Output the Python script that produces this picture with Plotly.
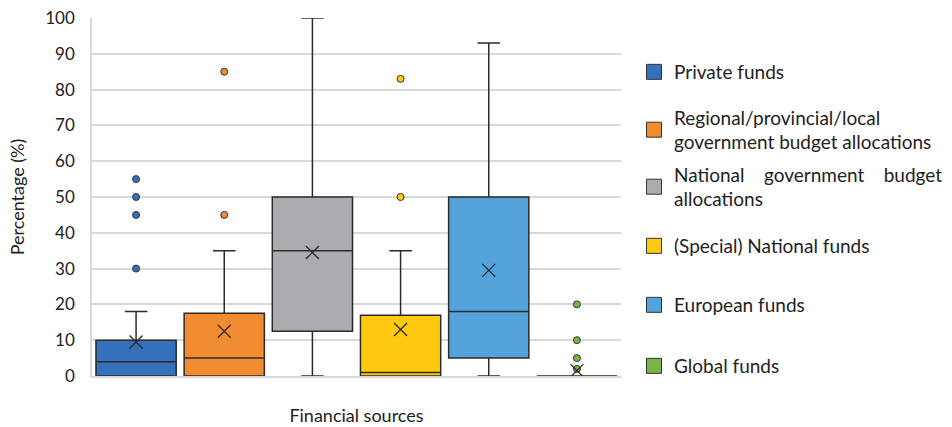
import plotly.graph_objects as go

categories = ["Private funds", "Regional/provincial/local government budget allocations",
              "National government budget allocations", "(Special) National funds",
              "European funds", "Global funds"]
legend_labels = ["Private funds",
                 "Regional/provincial/local<br>government budget allocations",
                 "National\u00a0\u00a0\u00a0 government\u00a0\u00a0\u00a0 budget<br>allocations",
                 "(Special) National funds",
                 "European funds",
                 "Global funds"]
lower_whisker = [0, 0, 0, 0, 0, 0]
q1_values = [0, 0, 12.5, 0, 5, 0]
median_values = [4, 5, 35, 1, 18, 0]
q3_values = [10, 17.5, 50, 17, 50, 0]
upper_whisker = [18, 35, 100, 35, 93, 0]
mean_values = [9.5, 12.5, 34.5, 13, 29.5, 1.5]
outlier_values = [[30, 45, 50, 55], [45, 85], [], [50, 83], [], [2, 5, 10, 20]]
y_ticks = [0, 10, 20, 30, 40, 50, 60, 70, 80, 90, 100]

colors = ["#3571BA", "#F28C30", "#AAACB0", "#FFCA0F", "#54A3DA", "#78B548"]
FONT = "Lato"

W, H = 952, 427
plot_left, plot_right = 92, 621
plot_top, plot_bottom = 18, 376

fig = go.Figure()
for i, cat in enumerate(categories):
    fig.add_trace(go.Box(
        x=[i], q1=[q1_values[i]], median=[median_values[i]], q3=[q3_values[i]],
        lowerfence=[lower_whisker[i]], upperfence=[upper_whisker[i]],
        width=0.91, whiskerwidth=0.28, fillcolor=colors[i],
        line=dict(color="#2b2b2b", width=1.5), boxpoints=False,
        name=cat, showlegend=False, hoverinfo="skip"))

for i, outs in enumerate(outlier_values):
    if outs:
        fig.add_trace(go.Scatter(
            x=[i] * len(outs), y=outs, mode="markers", showlegend=False,
            marker=dict(size=7, color=colors[i], line=dict(color="#333333", width=1))))

fig.add_trace(go.Scatter(
    x=list(range(len(categories))), y=mean_values, mode="markers", showlegend=False,
    marker=dict(symbol="x-thin-open", size=13, color="#2b2b2b",
                line=dict(color="#2b2b2b", width=1.3))))

# legend entries
legend_centers_px = [72, 130, 187, 246, 305, 366]
for i, lab in enumerate(legend_labels):
    key = "legend" if i == 0 else f"legend{i+1}"
    fig.add_trace(go.Scatter(
        x=[None], y=[None], mode="markers", name=lab, legend=key,
        marker=dict(symbol="square", size=15, color=colors[i],
                    line=dict(color="#333333", width=1))))
    ypaper = (plot_bottom - legend_centers_px[i]) / (plot_bottom - plot_top)
    xpaper = (634 - plot_left) / (plot_right - plot_left)
    fig.update_layout({key: dict(x=xpaper, y=ypaper, xanchor="left", yanchor="middle",
                                 bgcolor="rgba(0,0,0,0)", borderwidth=0,
                                 font=dict(family=FONT, size=19, color="#222222"))})

fig.update_layout(
    width=W, height=H,
    margin=dict(l=plot_left, r=W - plot_right, t=plot_top, b=H - plot_bottom, autoexpand=False),
    paper_bgcolor="white", plot_bgcolor="white",
    font=dict(family=FONT, size=18, color="#222222"),
    showlegend=True,
    xaxis=dict(range=[-0.5, 5.5], showticklabels=False, ticks="", showgrid=False,
               zeroline=False, showline=True, linecolor="#d9d9d9", linewidth=1.5,
               title=dict(text="Financial sources", standoff=33,
                          font=dict(family=FONT, size=18))),
    yaxis=dict(range=[0, 100], tickvals=y_ticks, ticks="", showgrid=True,
               gridcolor="#d9d9d9", gridwidth=1.5, zeroline=False,
               showline=True, linecolor="#d9d9d9", linewidth=1.5,
               ticklabelstandoff=12, automargin=False,
               tickfont=dict(family=FONT, size=17),
               title=dict(text="Percentage (%)", standoff=16,
                          font=dict(family=FONT, size=18))),
)

fig.write_html("out.html", config={"displayModeBar": False},
               post_script="document.body.style.margin='0';document.body.style.overflow='hidden';")
